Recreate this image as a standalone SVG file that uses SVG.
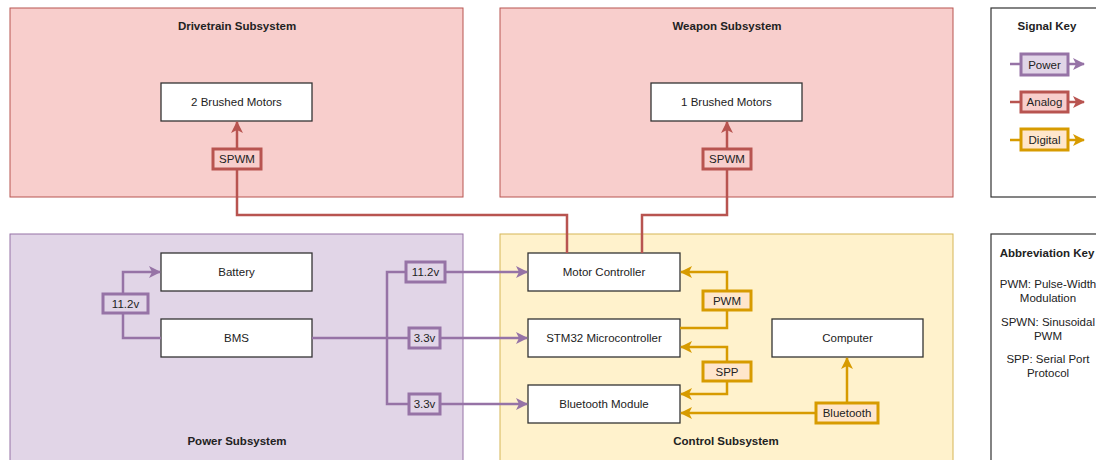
<svg xmlns="http://www.w3.org/2000/svg" width="1096" height="460" viewBox="0 0 1096 460">
<style>
text{font-family:"Liberation Sans",Arial,sans-serif;font-size:11.5px;fill:#222;text-anchor:middle;dominant-baseline:central}
.t{font-weight:bold;font-size:11.5px}
.red{fill:#f8cecc;stroke:#b85450;stroke-width:1}
.pur{fill:#e1d5e7;stroke:#9673a6;stroke-width:1}
.yel{fill:#fff2cc;stroke:#d6b656;stroke-width:1}
.key{fill:#fff;stroke:#333;stroke-width:1.2}
.node{fill:#fff;stroke:#333;stroke-width:1.3}
.lr{fill:none;stroke:#b85450;stroke-width:2.5}
.lp{fill:none;stroke:#9673a6;stroke-width:2.5}
.ld{fill:none;stroke:#d79b00;stroke-width:2.5}
.br{fill:#f8cecc;stroke:#b85450;stroke-width:3}
.bp{fill:#e1d5e7;stroke:#9673a6;stroke-width:3}
.bd{fill:#ffe6cc;stroke:#d79b00;stroke-width:3}
</style>
<defs>
<marker id="ar" markerUnits="userSpaceOnUse" markerWidth="14" markerHeight="14" refX="12" refY="7" orient="auto-start-reverse"><path d="M1,1 L13,7 L1,13 L4,7 Z" fill="#b85450"/></marker>
<marker id="ap" markerUnits="userSpaceOnUse" markerWidth="14" markerHeight="14" refX="12" refY="7" orient="auto-start-reverse"><path d="M1,1 L13,7 L1,13 L4,7 Z" fill="#9673a6"/></marker>
<marker id="ad" markerUnits="userSpaceOnUse" markerWidth="14" markerHeight="14" refX="12" refY="7" orient="auto-start-reverse"><path d="M1,1 L13,7 L1,13 L4,7 Z" fill="#d79b00"/></marker>
</defs>
<rect width="1096" height="460" fill="#fff"/>

<g id="drivetrain"><rect class="red" x="10" y="8" width="453" height="189"/><text class="t" x="237" y="26">Drivetrain Subsystem</text></g>
<g id="weapon"><rect class="red" x="500" y="8" width="453" height="189"/><text class="t" x="727" y="26">Weapon Subsystem</text></g>
<g id="power"><rect class="pur" x="10" y="234" width="453" height="240"/><text class="t" x="237" y="441">Power Subsystem</text></g>
<g id="control"><rect class="yel" x="500" y="234" width="453" height="240"/><text class="t" x="726" y="441">Control Subsystem</text></g>
<g id="signalkey"><rect class="key" x="991" y="8" width="120" height="189"/><text class="t" x="1047" y="26">Signal Key</text></g>
<g id="abbrevkey"><rect class="key" x="991" y="234" width="120" height="240"/><text class="t" x="1047" y="253">Abbreviation Key</text>
<text x="1048" y="284">PWM: Pulse-Width</text><text x="1048" y="298">Modulation</text>
<text x="1048" y="322">SPWN: Sinusoidal</text><text x="1048" y="336">PWM</text>
<text x="1048" y="359">SPP: Serial Port</text><text x="1048" y="373">Protocol</text></g>

<g id="motors2"><rect class="node" x="161" y="83" width="151" height="38"/><text x="236.5" y="102">2 Brushed Motors</text></g>
<g id="motors1"><rect class="node" x="651" y="83" width="151" height="38"/><text x="726.5" y="102">1 Brushed Motors</text></g>
<g id="battery"><rect class="node" x="161" y="253" width="151" height="38"/><text x="236.5" y="272">Battery</text></g>
<g id="bms"><rect class="node" x="161" y="319" width="151" height="38"/><text x="236.5" y="338">BMS</text></g>
<g id="motorcontroller"><rect class="node" x="528" y="253" width="152" height="38"/><text x="604" y="272">Motor Controller</text></g>
<g id="stm32"><rect class="node" x="528" y="319" width="152" height="38"/><text x="604" y="338">STM32 Microcontroller</text></g>
<g id="bluetoothmodule"><rect class="node" x="528" y="385" width="152" height="38"/><text x="604" y="404">Bluetooth Module</text></g>
<g id="computer"><rect class="node" x="772" y="319" width="151" height="38"/><text x="847.5" y="338">Computer</text></g>

<g id="connectors">
<path class="lr" d="M567,253 V215 H237 V122" marker-end="url(#ar)"/>
<path class="lr" d="M642,253 V215 H727 V122" marker-end="url(#ar)"/>
<path class="lp" d="M161,338 H123 V272 H160" marker-end="url(#ap)"/>
<path class="lp" d="M312,338 H527" marker-end="url(#ap)"/>
<path class="lp" d="M387,338 V272 H527" marker-end="url(#ap)"/>
<path class="lp" d="M387,338 V404 H527" marker-end="url(#ap)"/>
<path class="ld" d="M680,328 H727 V272 H681" marker-end="url(#ad)"/>
<path class="ld" d="M681,347 H727 V394 H681" marker-start="url(#ad)" marker-end="url(#ad)"/>
<path class="ld" d="M681,413 H847 V358" marker-start="url(#ad)" marker-end="url(#ad)"/>
<path class="lp" d="M1010,64 H1084" marker-end="url(#ap)"/>
<path class="lr" d="M1010,102 H1084" marker-end="url(#ar)"/>
<path class="ld" d="M1010,140 H1084" marker-end="url(#ad)"/>
<g id="labels">
<rect class="br" x="213" y="149" width="48" height="20"/><text x="237" y="159">SPWM</text>
<rect class="br" x="703" y="149" width="48" height="20"/><text x="727" y="159">SPWM</text>
<rect class="bp" x="103" y="294" width="45" height="19"/><text x="125.5" y="303.5">11.2v</text>
<rect class="bp" x="406" y="262" width="39" height="20"/><text x="425.5" y="272">11.2v</text>
<rect class="bp" x="409" y="328" width="31" height="20"/><text x="424.5" y="338">3.3v</text>
<rect class="bp" x="409" y="394" width="31" height="20"/><text x="424.5" y="404">3.3v</text>
<rect class="bd" x="703" y="291" width="48" height="19"/><text x="727" y="300.5">PWM</text>
<rect class="bd" x="703" y="362" width="48" height="19"/><text x="727" y="371.5">SPP</text>
<rect class="bd" x="816" y="403" width="62" height="20"/><text x="847" y="413">Bluetooth</text>
<rect class="bp" x="1021" y="54" width="47" height="21"/><text x="1044.5" y="64.5">Power</text>
<rect class="br" x="1021" y="92" width="47" height="20"/><text x="1044.5" y="102">Analog</text>
<rect class="bd" x="1021" y="129" width="47" height="21"/><text x="1044.5" y="139.5">Digital</text>
</g>
</g>
</svg>
